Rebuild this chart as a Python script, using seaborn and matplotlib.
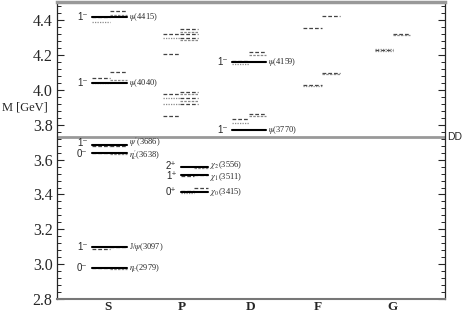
import numpy as np
import pandas as pd
import matplotlib
matplotlib.use('Agg')
import matplotlib.pyplot as plt
import seaborn as sns
from matplotlib.ticker import MultipleLocator

# Experimental charmonium states
EXP_GROUP = ['S', 'S', 'S', 'S', 'S', 'S', 'P1', 'P1', 'P1', 'D', 'D']
EXP_MASS = [2.979, 3.097, 3.638, 3.686, 4.040, 4.415, 3.415, 3.511, 3.556, 3.770, 4.159]
EXP_JP = ['0⁻', '1⁻', '0⁻', '1⁻', '1⁻', '1⁻', '0⁺', '1⁺', '2⁺', '1⁻', '1⁻']
EXP_NAME = [r'$\eta_c$(2979)', r'J/$\psi$(3097)', r"$\eta^{\prime}_c$(3638)", r"$\psi^{\prime}$(3686)",
            r'$\psi$(4040)', r'$\psi$(4415)', r'$\chi_0$(3415)', r'$\chi_1$(3511)',
            r'$\chi_2$(3556)', r'$\psi$(3770)', r'$\psi$(4159)']
# small vertical nudges so close labels don't collide
LABEL_NUDGE = [0, 0, -0.011, 0.011, 0, 0, 0, -0.011, 0.011, 0, 0]

# Model predictions (A, B drawn on the left half, C, D on the right half)
A_GROUP = ['S'] * 6 + ['P1'] * 2 + ['P'] * 4 + ['D'] * 2 + ['F'] * 2 + ['G']
A_MASS = [2.980, 3.090, 3.640, 3.678, 4.070, 4.415, 3.418, 3.508,
          3.976, 3.852, 4.318, 4.205, 3.830, 4.166, 4.028, 4.355, 4.228]
B_GROUP = ['S'] * 2 + ['P1'] + ['P'] * 3 + ['D'] * 2 + ['F'] + ['G'] * 2
B_MASS = [4.040, 4.390, 3.410, 3.953, 3.919, 4.295, 3.812, 4.150, 4.022, 4.220, 4.236]
C_GROUP = ['S'] * 4 + ['P1'] * 2 + ['P'] * 6 + ['D'] * 2 + ['F'] * 2 + ['G']
C_MASS = [3.097, 3.676, 4.100, 4.450, 3.440, 3.511,
          3.988, 3.953, 3.919, 4.347, 4.318, 4.295, 3.860, 4.215, 4.097, 4.425, 4.322]
D_GROUP = ['S'] * 4 + ['P1'] + ['P'] * 4 + ['D'] * 2 + ['F'] + ['G']
D_MASS = [2.975, 3.632, 4.055, 4.430, 3.552, 3.976, 3.936, 4.330, 4.285,
          3.848, 4.200, 4.093, 4.315]

WAVES = ['S', 'P', 'D', 'F', 'G']
DD_THRESHOLD = 3.73

# layout: (left, split, right) of each level group in x units
GROUP_X = {'S': (0.77, 1.03, 1.27), 'P1': (2.04, 2.23, 2.43), 'P': (1.79, 2.03, 2.29),
           'D': (2.77, 3.02, 3.26), 'F': (3.79, 4.06, 4.32), 'G': (4.82, 5.07, 5.32)}
TICK_X = [1.0, 2.06, 3.04, 4.0, 5.06]

segs = []
def add(groups, masses, kind):
    for g, m in zip(groups, masses):
        x0, xm, x1 = GROUP_X[g]
        if kind == 'exp':
            a, b = x0, x1
        elif kind in ('A', 'B'):
            a, b = x0, xm
        else:
            a, b = xm, x1
        sid = len(segs) // 2
        segs.append({'x': a, 'M': m, 'kind': kind, 'seg': sid})
        segs.append({'x': b, 'M': m, 'kind': kind, 'seg': sid})

add(A_GROUP, A_MASS, 'A')
add(B_GROUP, B_MASS, 'B')
add(C_GROUP, C_MASS, 'C')
add(D_GROUP, D_MASS, 'D')
add(EXP_GROUP, EXP_MASS, 'exp')
df = pd.DataFrame(segs)

sns.set_style('ticks', {'xtick.direction': 'in', 'ytick.direction': 'in'})
plt.rcParams['font.family'] = ['Liberation Serif', 'DejaVu Serif']
plt.rcParams['mathtext.fontset'] = 'stix'

fig, ax = plt.subplots(figsize=(4.63, 3.15), dpi=100)
fig.subplots_adjust(left=0.124, right=0.962, bottom=0.05, top=0.995)

palette = {'exp': 'black', 'A': '#444444', 'B': '#8a8a8a', 'C': '#444444', 'D': '#8a8a8a'}
dashes = {'exp': '', 'A': (3, 1.6), 'B': (1, 1), 'C': (3, 1.6), 'D': (2, 1)}
sizes = {'exp': 1.5, 'A': 0.9, 'B': 0.9, 'C': 0.9, 'D': 0.9}
sns.lineplot(data=df, x='x', y='M', hue='kind', style='kind', size='kind', units='seg',
             estimator=None, palette=palette, dashes=dashes, sizes=sizes,
             legend=False, ax=ax)

# labels of the experimental states
for g, m, jp, name, dy in zip(EXP_GROUP, EXP_MASS, EXP_JP, EXP_NAME, LABEL_NUDGE):
    x0, xm, x1 = GROUP_X[g]
    ax.text(x0 - 0.06, m + dy * 0.6, jp, ha='right', va='center', fontsize=7,
            family=['Liberation Sans', 'DejaVu Sans'])
    ax.text(x1 + 0.03, m + dy, name, ha='left', va='center', fontsize=6)

# DD threshold
ax.axhline(DD_THRESHOLD, color='#999999', lw=2)
ax.annotate('DD', xy=(1.005, DD_THRESHOLD), xycoords=('axes fraction', 'data'),
            ha='left', va='center', fontsize=7.5, family=['Liberation Sans', 'DejaVu Sans'])

ax.set_xlim(0.28, 5.82)
ax.set_ylim(2.8, 4.505)
ax.set_xticks(TICK_X)
ax.set_xticklabels(WAVES, fontweight='bold', fontsize=9.5)
ax.tick_params(axis='x', length=0, pad=1.5)
ax.yaxis.set_major_locator(MultipleLocator(0.2))
ax.yaxis.set_minor_locator(MultipleLocator(0.04))
ax.tick_params(axis='y', which='both', left=True, right=True, labelsize=11.5)
ax.tick_params(axis='y', which='major', length=5, width=0.8)
ax.tick_params(axis='y', which='minor', length=3, width=0.7)
ax.set_yticklabels([f'{v:.1f}' for v in ax.get_yticks()])
ax.set_xlabel('')
ax.set_ylabel('')
fig.text(0.005, 0.66, 'M [GeV]', fontsize=9, ha='left', va='center')

ax.spines['top'].set_color('#999999')
ax.spines['top'].set_linewidth(2.5)
ax.spines['bottom'].set_color('#777777')
ax.spines['bottom'].set_linewidth(1.5)
ax.spines['left'].set_linewidth(0.9)
ax.spines['right'].set_linewidth(0.9)

fig.savefig('out.png', dpi=100)
